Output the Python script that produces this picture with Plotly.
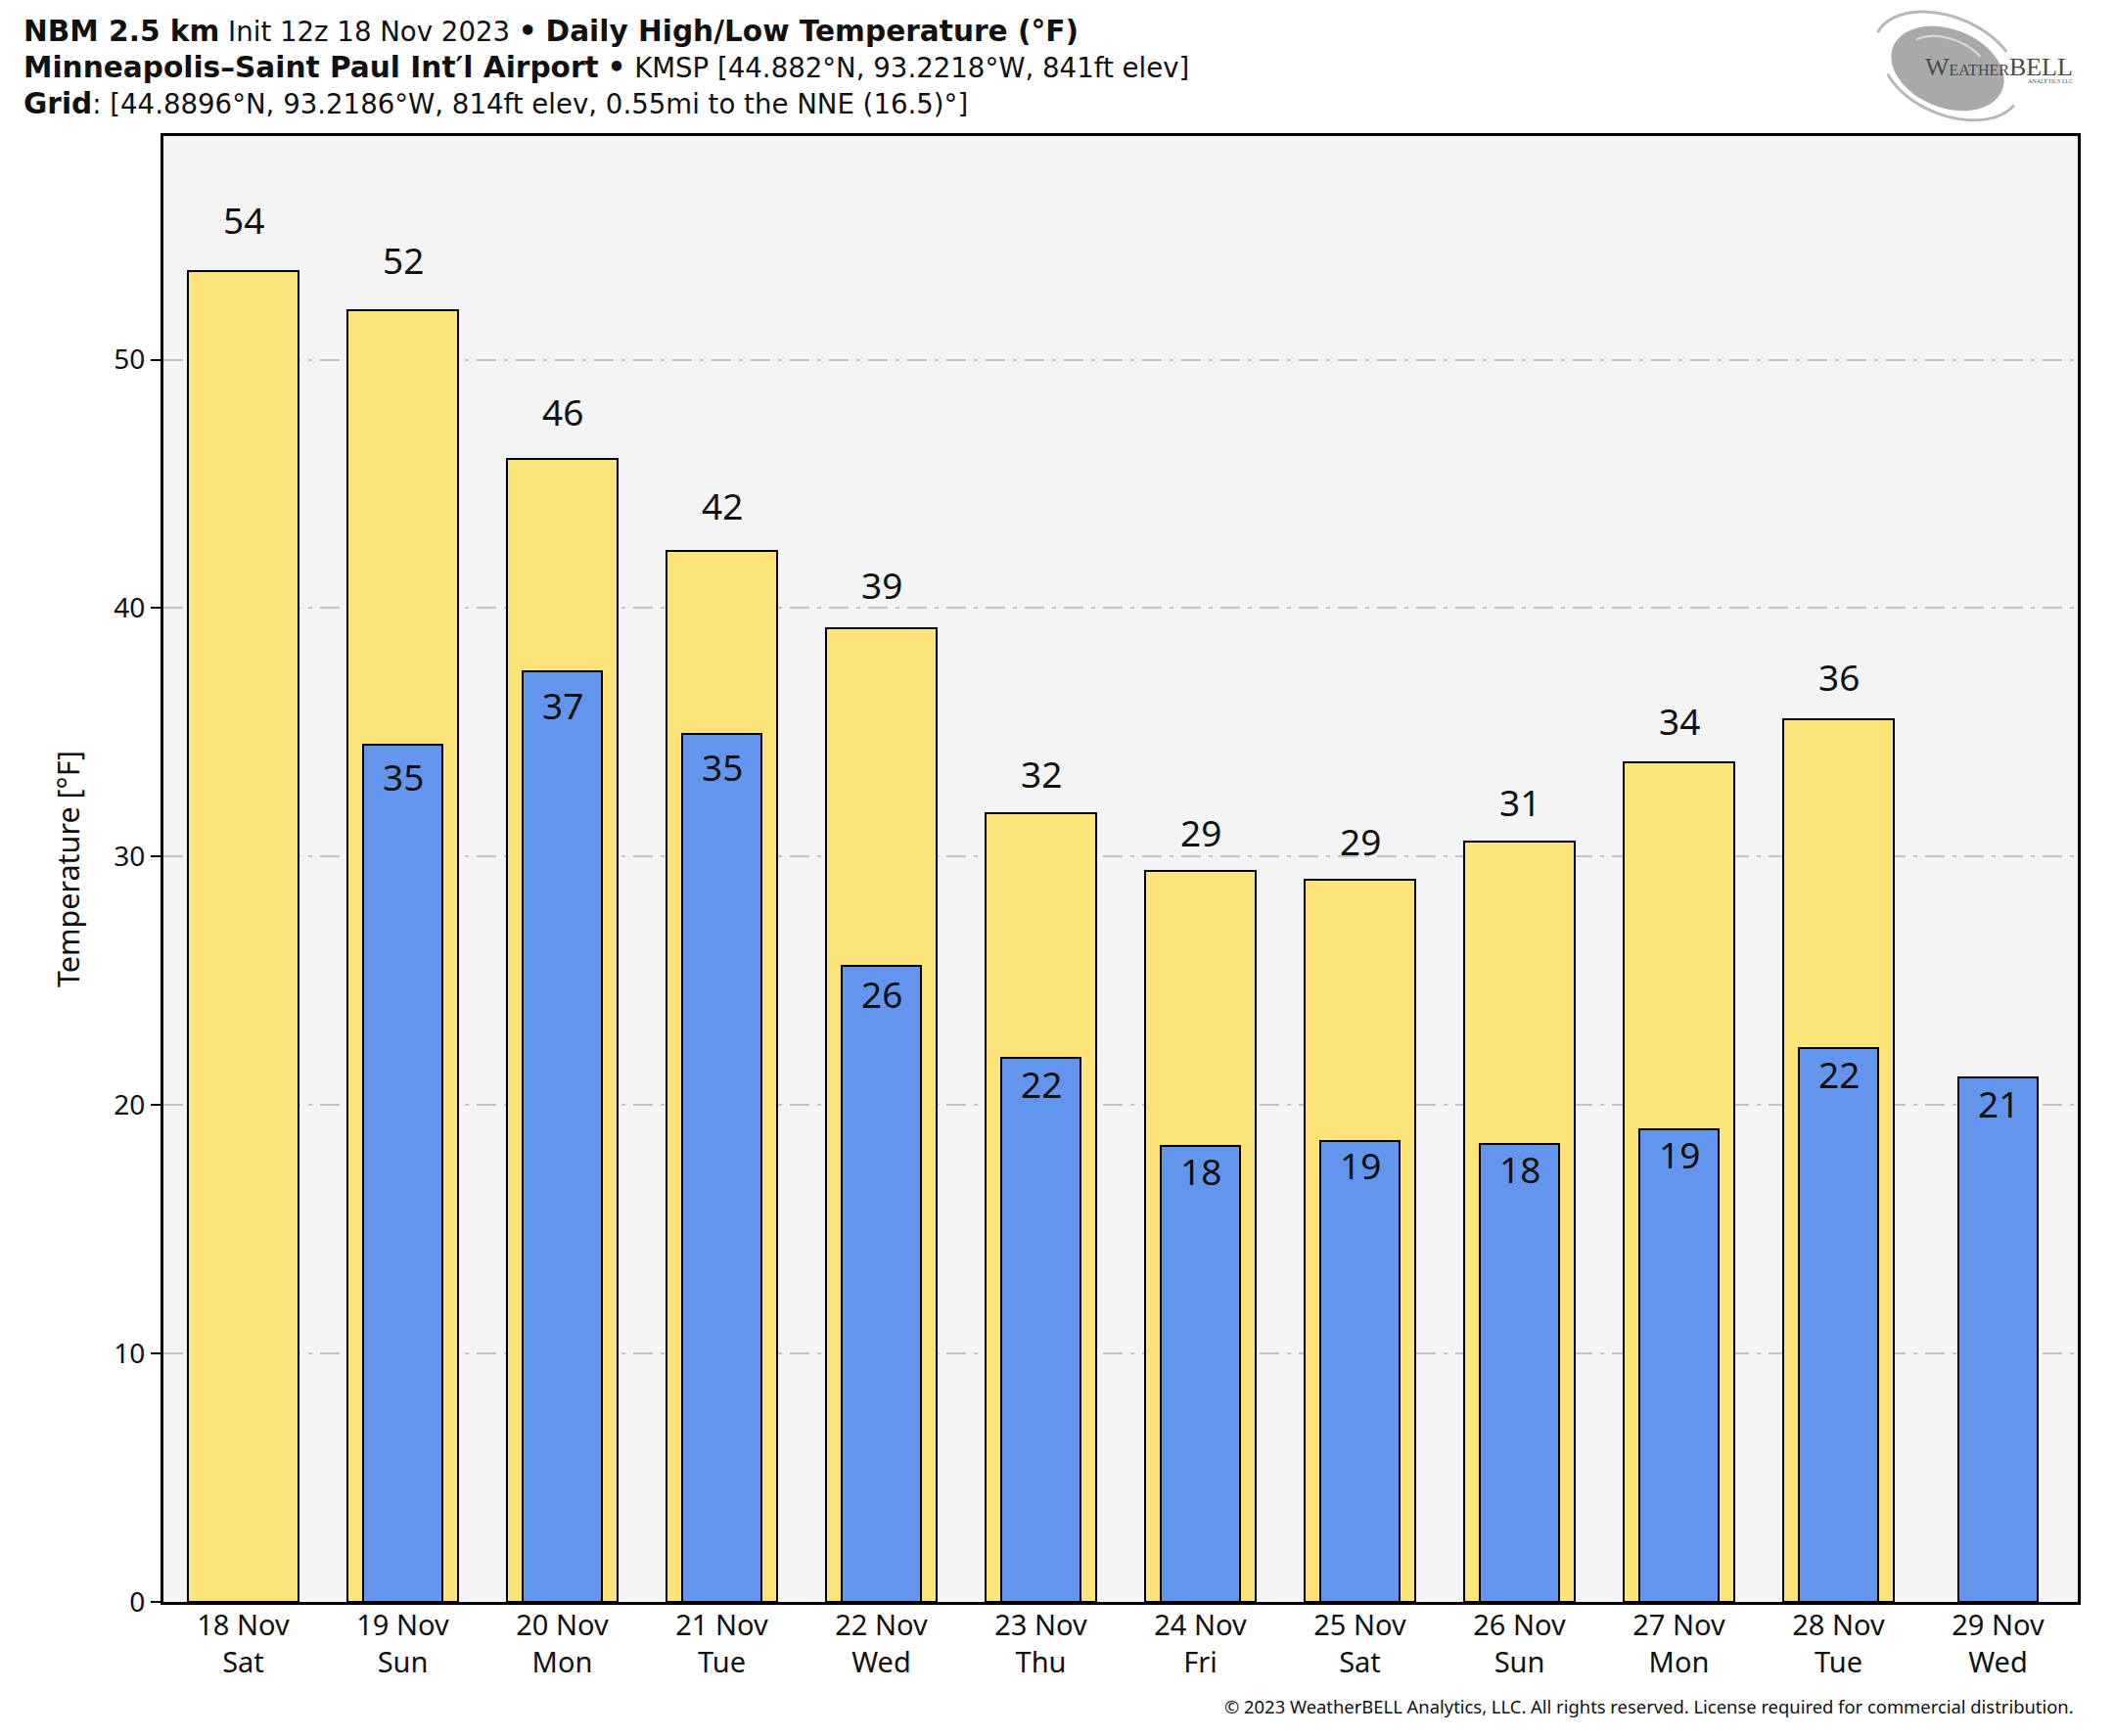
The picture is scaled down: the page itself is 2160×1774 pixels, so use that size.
import math
import numpy as np
import plotly.graph_objects as go

# ---------------- data ----------------
dates = ["18 Nov", "19 Nov", "20 Nov", "21 Nov", "22 Nov", "23 Nov",
         "24 Nov", "25 Nov", "26 Nov", "27 Nov", "28 Nov", "29 Nov"]
weekdays = ["Sat", "Sun", "Mon", "Tue", "Wed", "Thu",
            "Fri", "Sat", "Sun", "Mon", "Tue", "Wed"]
high_temps = [53.58, 52.0, 46.02, 42.30, 39.17, 31.73,
              29.41, 29.06, 30.61, 33.81, 35.54, None]
low_temps = [None, 34.51, 37.45, 34.93, 25.59, 21.88,
             18.34, 18.55, 18.42, 19.02, 22.31, 21.10]
y_ticks = [0, 10, 20, 30, 40, 50]

BOLD = "<span style='font-size:29.6px'><b>{}</b></span>"
title_lines = [
    BOLD.format("NBM 2.5 km") + " Init 12z 18 Nov 2023 " + BOLD.format("•")
    + " " + BOLD.format("Daily High/Low Temperature (°F)"),
    BOLD.format("Minneapolis–Saint Paul Int′l Airport") + " " + BOLD.format("•")
    + " KMSP [44.882°N, 93.2218°W, 841ft elev]",
    BOLD.format("Grid") + ": [44.8896°N, 93.2186°W, 814ft elev, 0.55mi to the NNE (16.5)°]",
]
footer = "© 2023 WeatherBELL Analytics, LLC. All rights reserved. License required for commercial distribution."

# ---------------- layout geometry ----------------
# page body has an 8px margin; figure is sized so it fits the window
OFF = 8
W, H = 2160 - 2 * OFF, 1774 - 2 * OFF
# plot area in window pixels: x 167..2123, y 139..1637
L = 167 - OFF
T = 139 - OFF
R = W - (2123 - OFF)
B = H - (1637 - OFF)
PW, PH = W - L - R, H - T - B
Y_MAX = 59
PPU = PH / Y_MAX  # pixels per degree


def px(x):  # window px -> paper
    return (x - OFF - L) / PW


def py(y):  # window px -> paper
    return (T + PH - (y - OFF)) / PH


FONT = "Noto Sans"
TFONT = "DejaVu Sans"
HIGH_COLOR = "#FDE47A"
LOW_COLOR = "#6495ED"

fig = go.Figure()
fig.add_trace(go.Bar(
    x=dates, y=high_temps, width=0.69, name="High",
    marker=dict(color=HIGH_COLOR, line=dict(color="black", width=2)),
    hoverinfo="skip",
))
fig.add_trace(go.Bar(
    x=dates, y=low_temps, width=0.50, name="Low",
    marker=dict(color=LOW_COLOR, line=dict(color="black", width=2)),
    hoverinfo="skip",
))


def rnd(v):
    return str(int(math.floor(v + 0.5)))


annotations = []
for d, v in zip(dates, high_temps):
    if v is None:
        continue
    annotations.append(dict(x=d, y=v, xref="x", yref="y", text=rnd(v),
                            showarrow=False, yanchor="middle",
                            yshift=(0.93 + 0.0202 * v) * PPU + 1,
                            font=dict(family=FONT, size=37, color="#111")))
for d, v in zip(dates, low_temps):
    if v is None:
        continue
    annotations.append(dict(x=d, y=v, xref="x", yref="y", text=rnd(v),
                            showarrow=False, yanchor="middle",
                            yshift=-((0.654 + 0.0195 * v) * PPU - 1),
                            font=dict(family=FONT, size=37, color="#111")))

# titles
title_y = [32, 69, 106]
for t, yy in zip(title_lines, title_y):
    annotations.append(dict(x=px(22), y=py(yy), xref="paper", yref="paper",
                            text=t, showarrow=False, xanchor="left", yanchor="middle",
                            font=dict(family=TFONT, size=27.6, color="#111")))

# y axis title
annotations.append(dict(x=px(69), y=py(888), xref="paper", yref="paper",
                        text="Temperature [°F]", textangle=-90, showarrow=False,
                        xanchor="center", yanchor="middle",
                        font=dict(family=FONT, size=30.5, color="#111")))

# footer
annotations.append(dict(x=px(2121), y=py(1743), xref="paper", yref="paper",
                        text=footer, showarrow=False, xanchor="right", yanchor="middle",
                        font=dict(family=FONT, size=18.4, color="#111")))

# logo text
annotations.append(dict(x=px(2120), y=py(68), xref="paper", yref="paper",
                        text="W<span style='font-size:16px'>EATHER</span>BELL",
                        showarrow=False, xanchor="right", yanchor="middle",
                        font=dict(family="Liberation Serif", size=26, color="#4a4a4a")))
annotations.append(dict(x=px(2120), y=py(83), xref="paper", yref="paper",
                        text="ANALYTICS LLC", showarrow=False, xanchor="right", yanchor="middle",
                        font=dict(family="Liberation Serif", size=6, color="#555")))


# logo swirl (decoration)
def ellipse_path(cx, cy, rx, ry, ang, t0=0.0, t1=2 * np.pi, n=60, close=True):
    ts = np.linspace(t0, t1, n)
    ca, sa = np.cos(ang), np.sin(ang)
    pts = []
    for t in ts:
        ex, ey = rx * np.cos(t), ry * np.sin(t)
        xx = cx + ex * ca - ey * sa
        yy = cy + ex * sa + ey * ca
        pts.append((px(xx), py(yy)))
    s = "M " + " L ".join(f"{a:.5f},{b:.5f}" for a, b in pts)
    if close:
        s += " Z"
    return s


shapes = [
    dict(type="path", xref="paper", yref="paper",
         path=ellipse_path(1990, 70, 60, 40, 0.38),
         fillcolor="#a9a9a9", line=dict(width=0), layer="above"),
    dict(type="path", xref="paper", yref="paper",
         path=ellipse_path(1988, 64, 76, 47, 0.38, 3.2, 5.5, close=False),
         line=dict(color="#b8b8b8", width=3), layer="above"),
    dict(type="path", xref="paper", yref="paper",
         path=ellipse_path(1994, 72, 74, 46, 0.38, 0.2, 2.5, close=False),
         line=dict(color="#b8b8b8", width=3), layer="above"),
    dict(type="path", xref="paper", yref="paper",
         path=ellipse_path(1990, 66, 44, 26, 0.38, 3.6, 5.4, close=False),
         line=dict(color="#dcdcdc", width=2), layer="above"),
]

fig.update_layout(
    width=W, height=H,
    margin=dict(l=L, r=R, t=T, b=B, pad=0),
    paper_bgcolor="white", plot_bgcolor="#f4f4f4",
    barmode="overlay", bargap=0, showlegend=False,
    font=dict(family=FONT, color="#111"),
    annotations=annotations, shapes=shapes,
)
fig.update_xaxes(
    type="category", range=[-0.5, 11.5],
    tickvals=dates, ticktext=[f"{d}<br>{w}" for d, w in zip(dates, weekdays)],
    ticks="", showgrid=False, zeroline=False,
    showline=True, linecolor="black", linewidth=3, mirror=True,
    tickfont=dict(family=FONT, size=29, color="#111"),
    ticklabelstandoff=-4,
)
fig.update_yaxes(
    range=[0, Y_MAX], tickvals=y_ticks,
    ticks="outside", ticklen=10, tickwidth=2, tickcolor="black",
    showgrid=True, gridcolor="#c4c4c4", gridwidth=2, griddash="20px,8px,4px,8px",
    zeroline=False,
    showline=True, linecolor="black", linewidth=3, mirror=True,
    tickfont=dict(family=FONT, size=28, color="#111"),
)

fig.write_html("out.html")
